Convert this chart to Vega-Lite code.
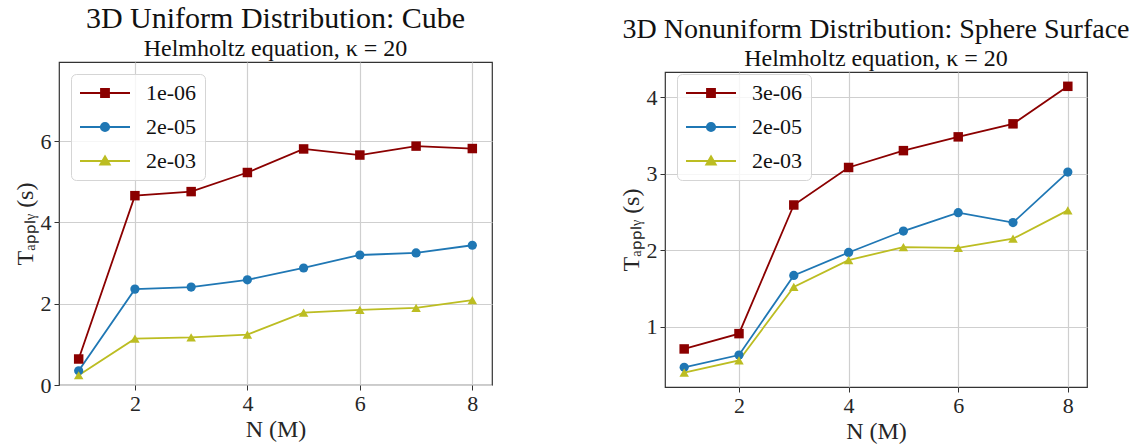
{
  "$schema": "https://vega.github.io/schema/vega-lite/v6.json",
  "background": "white",
  "padding": {"left": 12, "top": 3, "right": 3, "bottom": 0},
  "config": {
    "font": "Liberation Serif",
    "view": {"stroke": "#333333", "strokeWidth": 1.2},
    "axis": {
      "labelFont": "Liberation Serif", "labelFontSize": 22, "labelColor": "#262626",
      "titleFont": "Liberation Serif", "titleFontSize": 24, "titleFontWeight": "normal", "titleColor": "#262626",
      "gridColor": "#cfcfcf", "gridWidth": 1.2, "tickColor": "#333333", "tickSize": 5,
      "domain": false, "labelPadding": 3, "titlePadding": 3
    },
    "title": {
      "font": "Liberation Serif", "fontSize": 28, "fontWeight": "normal", "color": "#111111",
      "subtitleFont": "Liberation Serif", "subtitleFontSize": 24, "subtitleColor": "#111111",
      "offset": 1, "subtitlePadding": 0, "anchor": "middle"
    },
    "legend": {
      "title": null, "orient": "top-left", "offset": 12, "padding": 8, "rowPadding": 12,
      "labelFont": "Liberation Serif", "labelFontSize": 22, "labelColor": "#111111",
      "strokeColor": "#d5d5d5", "fillColor": "rgba(255,255,255,0.8)", "cornerRadius": 5,
      "symbolSize": 400, "symbolOffset": 15, "labelOffset": 30
    }
  },
  "resolve": {"scale": {"color": "independent"}, "legend": {"color": "independent"}},
  "columns": 2,
  "align": "none",
  "spacing": 125,
  "concat": [
    {
      "width": 433, "height": 323,
      "title": {"text": "3D Uniform Distribution: Cube", "fontSize": 30, "subtitle": "Helmholtz equation, κ = 20"},
      "data": {"values": [
        {"N": 1, "T": 0.64, "tol": "1e-06"}, {"N": 2, "T": 4.66, "tol": "1e-06"}, {"N": 3, "T": 4.76, "tol": "1e-06"}, {"N": 4, "T": 5.23, "tol": "1e-06"},
        {"N": 5, "T": 5.81, "tol": "1e-06"}, {"N": 6, "T": 5.66, "tol": "1e-06"}, {"N": 7, "T": 5.88, "tol": "1e-06"}, {"N": 8, "T": 5.82, "tol": "1e-06"},
        {"N": 1, "T": 0.35, "tol": "2e-05"}, {"N": 2, "T": 2.36, "tol": "2e-05"}, {"N": 3, "T": 2.41, "tol": "2e-05"}, {"N": 4, "T": 2.59, "tol": "2e-05"},
        {"N": 5, "T": 2.88, "tol": "2e-05"}, {"N": 6, "T": 3.2, "tol": "2e-05"}, {"N": 7, "T": 3.25, "tol": "2e-05"}, {"N": 8, "T": 3.44, "tol": "2e-05"},
        {"N": 1, "T": 0.24, "tol": "2e-03"}, {"N": 2, "T": 1.14, "tol": "2e-03"}, {"N": 3, "T": 1.17, "tol": "2e-03"}, {"N": 4, "T": 1.24, "tol": "2e-03"},
        {"N": 5, "T": 1.78, "tol": "2e-03"}, {"N": 6, "T": 1.85, "tol": "2e-03"}, {"N": 7, "T": 1.9, "tol": "2e-03"}, {"N": 8, "T": 2.09, "tol": "2e-03"}
      ]},
      "encoding": {
        "x": {"field": "N", "type": "quantitative", "scale": {"domain": [0.65, 8.35], "nice": false, "zero": false}, "axis": {"values": [2, 4, 6, 8], "title": "N (M)"}},
        "y": {"field": "T", "type": "quantitative", "scale": {"domain": [0, 7.95], "nice": false}, "axis": {"values": [0, 2, 4, 6], "title": "Tₐₚₚₗᵧ (s)"}},
        "color": {"field": "tol", "type": "nominal", "sort": null, "scale": {"domain": ["1e-06", "2e-05", "2e-03"], "range": ["#8b0000", "#1f77b4", "#bcbd22"]},
          "legend": {
            "encode": {"symbols": {"update": {
              "shape": {"signal": "datum.value === '2e-05' ? 'M-2.5,0H2.5M0.42,0A0.42,0.42,0,1,1,-0.42,0A0.42,0.42,0,1,1,0.42,0Z' : datum.value === '2e-03' ? 'M-2.5,0H2.5M0,-0.48L0.48,0.36L-0.48,0.36Z' : 'M-2.5,0H2.5M-0.4,-0.4H0.4V0.4H-0.4Z'"},
              "fill": {"signal": "datum.value === '2e-05' ? '#1f77b4' : datum.value === '2e-03' ? '#bcbd22' : '#8b0000'"},
              "stroke": {"signal": "datum.value === '2e-05' ? '#1f77b4' : datum.value === '2e-03' ? '#bcbd22' : '#8b0000'"},
              "strokeWidth": {"value": 1.8},
              "opacity": {"value": 1}
            }}}
          }}
      },
      "layer": [
        {"mark": {"type": "line", "strokeWidth": 1.8}},
        {"transform": [{"filter": "datum.tol === '1e-06'"}], "mark": {"type": "point", "shape": "square", "filled": true, "opacity": 1, "size": 90}},
        {"transform": [{"filter": "datum.tol === '2e-05'"}], "mark": {"type": "point", "shape": "circle", "filled": true, "opacity": 1, "size": 85}},
        {"transform": [{"filter": "datum.tol === '2e-03'"}], "mark": {"type": "point", "shape": "triangle-up", "filled": true, "opacity": 1, "size": 90}}
      ]
    },
    {
      "spacing": -48,
      "vconcat": [
        {
          "width": 422, "height": 1,
          "view": {"stroke": null, "fill": null},
          "data": {"values": []},
          "mark": {"type": "point", "opacity": 0}
        },
        {
          "width": 422, "height": 315,
          "title": {"text": "3D Nonuniform Distribution: Sphere Surface", "subtitle": "Helmholtz equation, κ = 20"},
          "data": {"values": [
            {"N": 1, "T": 0.71, "tol": "3e-06"}, {"N": 2, "T": 0.91, "tol": "3e-06"}, {"N": 3, "T": 2.59, "tol": "3e-06"}, {"N": 4, "T": 3.08, "tol": "3e-06"},
            {"N": 5, "T": 3.3, "tol": "3e-06"}, {"N": 6, "T": 3.48, "tol": "3e-06"}, {"N": 7, "T": 3.65, "tol": "3e-06"}, {"N": 8, "T": 4.14, "tol": "3e-06"},
            {"N": 1, "T": 0.47, "tol": "2e-05"}, {"N": 2, "T": 0.63, "tol": "2e-05"}, {"N": 3, "T": 1.67, "tol": "2e-05"}, {"N": 4, "T": 1.97, "tol": "2e-05"},
            {"N": 5, "T": 2.25, "tol": "2e-05"}, {"N": 6, "T": 2.49, "tol": "2e-05"}, {"N": 7, "T": 2.36, "tol": "2e-05"}, {"N": 8, "T": 3.02, "tol": "2e-05"},
            {"N": 1, "T": 0.4, "tol": "2e-03"}, {"N": 2, "T": 0.56, "tol": "2e-03"}, {"N": 3, "T": 1.52, "tol": "2e-03"}, {"N": 4, "T": 1.87, "tol": "2e-03"},
            {"N": 5, "T": 2.04, "tol": "2e-03"}, {"N": 6, "T": 2.03, "tol": "2e-03"}, {"N": 7, "T": 2.15, "tol": "2e-03"}, {"N": 8, "T": 2.52, "tol": "2e-03"}
          ]},
          "encoding": {
            "x": {"field": "N", "type": "quantitative", "scale": {"domain": [0.65, 8.35], "nice": false, "zero": false}, "axis": {"values": [2, 4, 6, 8], "title": "N (M)"}},
            "y": {"field": "T", "type": "quantitative", "scale": {"domain": [0.213, 4.327], "nice": false, "zero": false}, "axis": {"values": [1, 2, 3, 4], "title": "Tₐₚₚₗᵧ (s)"}},
            "color": {"field": "tol", "type": "nominal", "sort": null, "scale": {"domain": ["3e-06", "2e-05", "2e-03"], "range": ["#8b0000", "#1f77b4", "#bcbd22"]},
              "legend": {
                "encode": {"symbols": {"update": {
                  "shape": {"signal": "datum.value === '2e-05' ? 'M-2.5,0H2.5M0.42,0A0.42,0.42,0,1,1,-0.42,0A0.42,0.42,0,1,1,0.42,0Z' : datum.value === '2e-03' ? 'M-2.5,0H2.5M0,-0.48L0.48,0.36L-0.48,0.36Z' : 'M-2.5,0H2.5M-0.4,-0.4H0.4V0.4H-0.4Z'"},
                  "fill": {"signal": "datum.value === '2e-05' ? '#1f77b4' : datum.value === '2e-03' ? '#bcbd22' : '#8b0000'"},
                  "stroke": {"signal": "datum.value === '2e-05' ? '#1f77b4' : datum.value === '2e-03' ? '#bcbd22' : '#8b0000'"},
                  "strokeWidth": {"value": 1.8},
                  "opacity": {"value": 1}
                }}}
              }}
          },
          "layer": [
            {"mark": {"type": "line", "strokeWidth": 1.8}},
            {"transform": [{"filter": "datum.tol === '3e-06'"}], "mark": {"type": "point", "shape": "square", "filled": true, "opacity": 1, "size": 90}},
            {"transform": [{"filter": "datum.tol === '2e-05'"}], "mark": {"type": "point", "shape": "circle", "filled": true, "opacity": 1, "size": 85}},
            {"transform": [{"filter": "datum.tol === '2e-03'"}], "mark": {"type": "point", "shape": "triangle-up", "filled": true, "opacity": 1, "size": 90}}
          ]
        }
      ]
    }
  ]
}
